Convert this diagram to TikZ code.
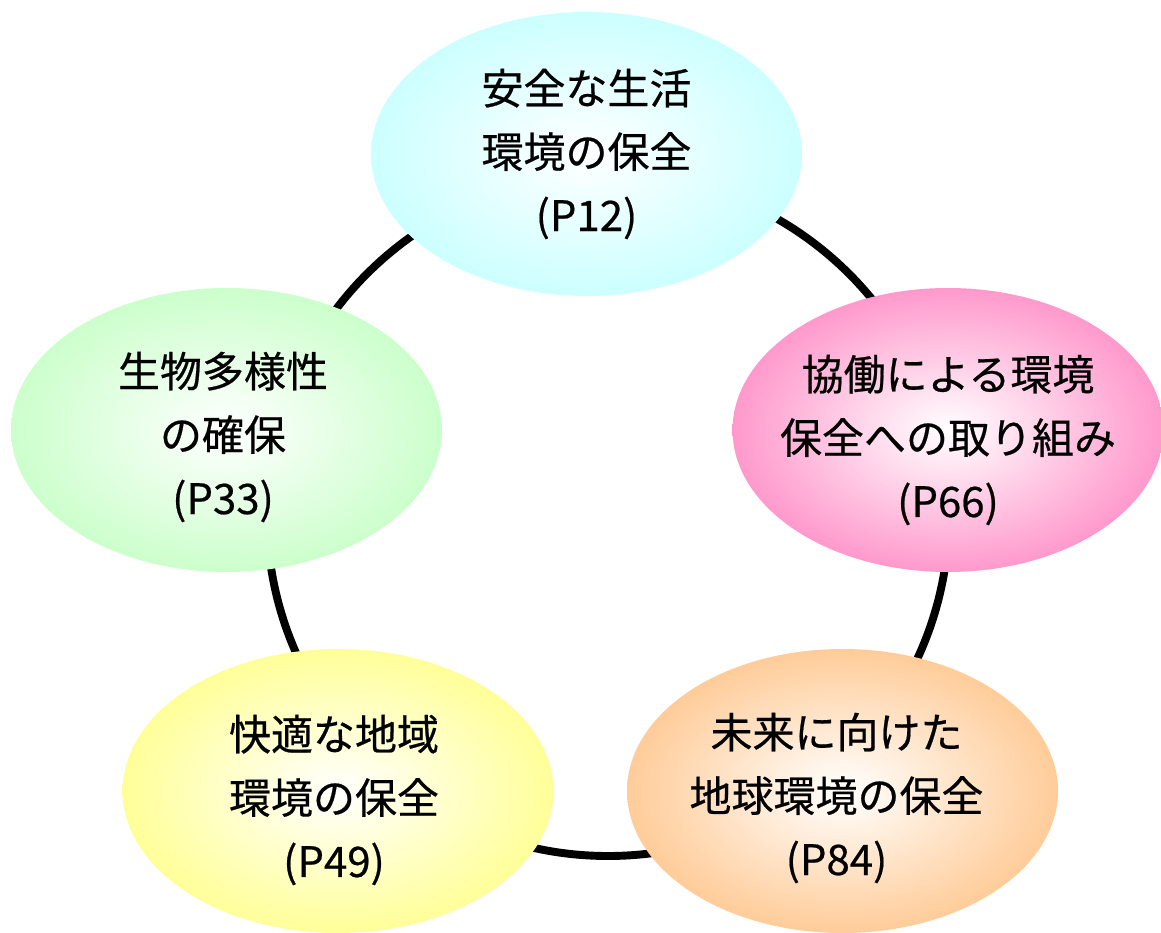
\documentclass[tikz,border=0pt]{standalone}
\usepackage{fontspec}
\setmainfont[FakeBold=0.5]{Noto Sans CJK JP}
\usetikzlibrary{shapes.geometric}

\definecolor{aqua}{RGB}{204,255,255}
\definecolor{rose}{RGB}{255,153,204}
\definecolor{mint}{RGB}{204,255,204}
\definecolor{lemon}{RGB}{255,255,153}
\definecolor{apricot}{RGB}{255,204,153}

\begin{document}
\begin{tikzpicture}[
  bubble/.style={ellipse, minimum width=8.62cm, minimum height=5.68cm, inner sep=0pt, inner color=white},
  caption/.style={align=center, inner sep=0pt, font=\fontsize{23.9}{36.1}\selectfont}
]
\useasboundingbox (0,0) rectangle (23.22,18.64);

% Ring behind the bubbles
\coordinate (hub) at (12.16,8.34);
\draw[line width=4.5pt] (hub) circle (6.82);

 % Nodes
\node[bubble, outer color=aqua]    (safety)  at (11.73,15.56) {};
\node[bubble, outer color=rose]    (partner) at (18.96,10.04) {};
\node[bubble, outer color=apricot] (future)  at (16.85,2.82)  {};
\node[bubble, outer color=lemon]   (comfort) at (6.76,2.82)   {};
\node[bubble, outer color=mint]    (biodiv)  at (4.53,10.04)  {};

% Texts
\node[caption] (safety_txt)  at (safety)  {安全な生活\\環境の保全\\(P12)};
\node[caption] (partner_txt) at ([yshift=-0.2cm]partner) {協働による環境\\保全への取り組み\\(P66)};
\node[caption] (future_txt)  at ([xshift=-0.12cm,yshift=-0.14cm]future)  {未来に向けた\\地球環境の保全\\(P84)};
\node[caption] (comfort_txt) at ([xshift=-0.08cm,yshift=-0.18cm]comfort) {快適な地域\\環境の保全\\(P49)};
\node[caption] (biodiv_txt)  at ([xshift=-0.07cm,yshift=-0.14cm]biodiv)  {生物多様性\\の確保\\(P33)};

\end{tikzpicture}
\end{document}
